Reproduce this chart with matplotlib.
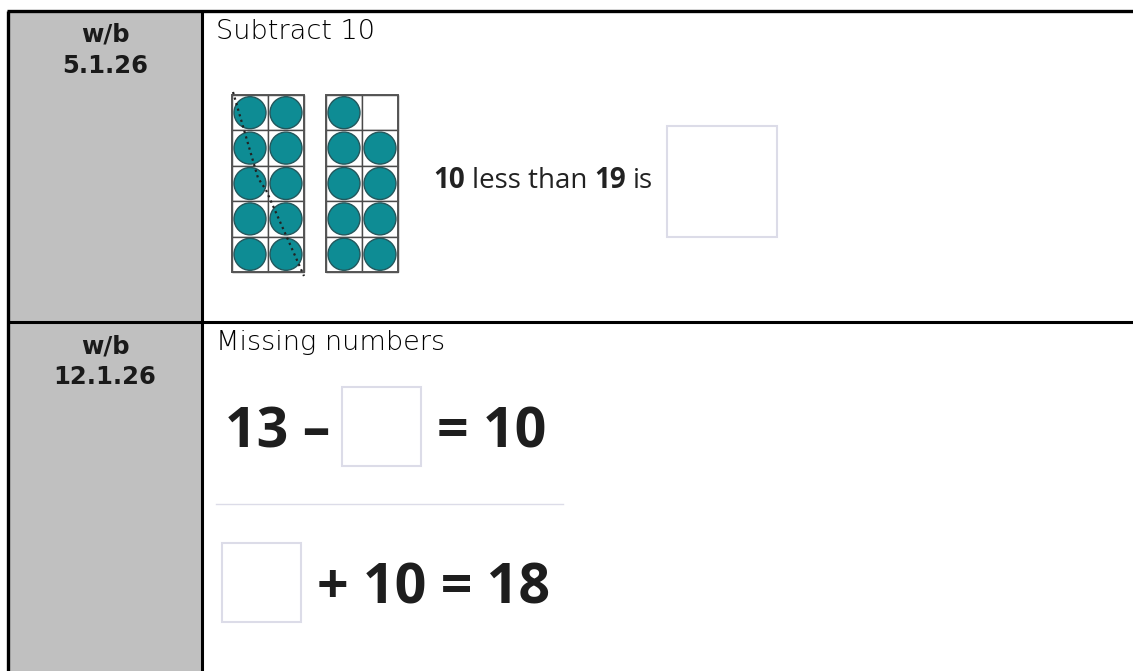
import matplotlib.pyplot as plt
from matplotlib.patches import Rectangle, Circle

# table content
weeks = [('w/b', '5.1.26'), ('w/b', '12.1.26')]
titles = ['Subtract 10', 'Missing numbers']
frame_counts = [10, 9]          # counters in each ten frame
question = [('10', 'bold'), ('less than', 'normal'), ('19', 'bold'), ('is', 'normal')]
eq_top = ['13 \u2013', '= 10']
eq_bottom = ['+ 10 = 18']

GRAY = '#c0c0c0'
TEAL = '#0e8c94'
BOX = '#dcdce8'

fig = plt.figure(figsize=(11.33, 6.71), dpi=100, facecolor='white')
ax = fig.add_axes([0, 0, 1, 1])
ax.set_xlim(0, 1133)
ax.set_ylim(671, 0)
ax.axis('off')

# table frame
top, left, split, mid = 11, 8, 202, 322
ax.add_patch(Rectangle((left, top), split - left, 671 - top, fc=GRAY, ec='none'))
ax.plot([left - 1.5, 1133], [top, top], color='black', lw=2.4, solid_capstyle='butt')
ax.plot([left, 1133], [mid, mid], color='black', lw=2.2, solid_capstyle='butt')
ax.plot([left, left], [top, 671], color='black', lw=2.4, solid_capstyle='butt')
ax.plot([split, split], [top, 671], color='black', lw=2.2, solid_capstyle='butt')

# left column + headings
for i, ((wb, date), title) in enumerate(zip(weeks, titles)):
    y0 = top if i == 0 else mid
    ax.text((left + split) / 2, y0 + 31, wb, ha='center', va='baseline', fontsize=17.5,
            fontweight='bold', color='#1a1a1a', family='DejaVu Sans')
    ax.text((left + split) / 2, y0 + 62, date, ha='center', va='baseline', fontsize=17.5,
            fontweight='bold', color='#1a1a1a', family='DejaVu Sans')
    ax.text(216, y0 + 28, title, ha='left', va='baseline', fontsize=19.5,
            color='#000000', family='DejaVu Sans', fontweight='light')

# ten frames
cw, ch = 36, 35.4
frame_x = [232, 326]
frame_top = 95
for fx, n in zip(frame_x, frame_counts):
    order = [(r, c) for r in range(4, -1, -1) for c in range(2)]
    filled = set(order[:n])
    for r in range(5):
        for c in range(2):
            x0, y0 = fx + c * cw, frame_top + r * ch
            ax.add_patch(Rectangle((x0, y0), cw, ch, fc='white', ec='#4a4a4a', lw=1.0))
            if (r, c) in filled:
                ax.add_patch(Circle((x0 + cw / 2, y0 + ch / 2), 16, fc=TEAL,
                                    ec='#24575c', lw=1.0))
    ax.add_patch(Rectangle((fx, frame_top), 2 * cw, 5 * ch, fc='none', ec='#555555', lw=1.4))

# dotted line crossing out ten in the first frame
ax.plot([233, 258, 266, 304], [92, 178, 190, 276], color='#222222', lw=1.6,
        linestyle=(0, (1, 1.6)))

# "10 less than 19 is" with answer box
renderer = fig.canvas.get_renderer()
inv = ax.transData.inverted()
x = 433
for s, w in question:
    t = ax.text(x, 188, s, ha='left', va='baseline', fontsize=20, fontweight=w,
                color='#222222', family='Open Sans')
    bb = t.get_window_extent(renderer)
    x = inv.transform((bb.x1, 0))[0] + 7
ax.add_patch(Rectangle((667, 126), 110, 111, fc='white', ec=BOX, lw=1.5))

# missing number equations
ax.text(225, 448, eq_top[0], ha='left', va='baseline', fontsize=40, fontweight='bold',
        color='#1e1e1e', family='Open Sans')
ax.add_patch(Rectangle((342, 387), 79, 79, fc='white', ec=BOX, lw=1.5))
ax.text(437, 448, eq_top[1], ha='left', va='baseline', fontsize=40, fontweight='bold',
        color='#1e1e1e', family='Open Sans')
ax.plot([216, 563], [504, 504], color=BOX, lw=1.0)
ax.add_patch(Rectangle((222, 543), 79, 79, fc='white', ec=BOX, lw=1.5))
ax.text(317, 603, eq_bottom[0], ha='left', va='baseline', fontsize=40, fontweight='bold',
        color='#1e1e1e', family='Open Sans')

fig.savefig('out.png', dpi=100, facecolor='white')
